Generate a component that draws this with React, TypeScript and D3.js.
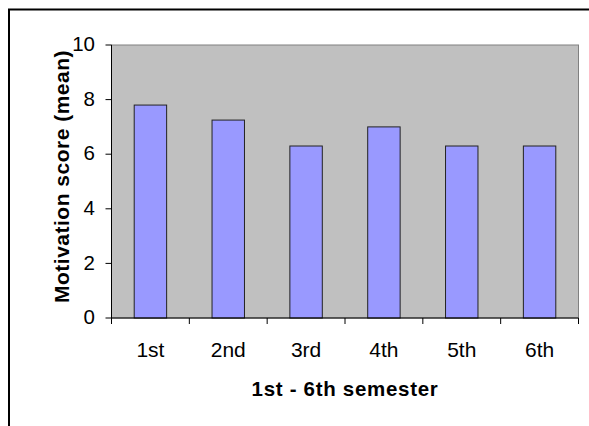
import React from "react";
import * as d3 from "d3";

const categories = ["1st", "2nd", "3rd", "4th", "5th", "6th"];
const meanScores = [7.8, 7.25, 6.3, 7.0, 6.3, 6.3];
const yTicks = [0, 2, 4, 6, 8, 10];
const xTitle = "1st - 6th semester";
const yTitle = "Motivation score (mean)";

const W = 589;
const H = 426;
const plot = { left: 111.5, right: 578.5, top: 45, bottom: 318 };
const font = "'Liberation Sans', Arial, Helvetica, sans-serif";

export default function App() {
  const y = d3.scaleLinear().domain([0, 10]).range([plot.bottom, plot.top]);
  // category slots (for tick marks) and bars with 140% gap width
  const slot = d3.scaleBand<string>().domain(categories).range([plot.left, plot.right]).padding(0);
  const gap = 1.4 / 2.4;
  const bar = d3
    .scaleBand<string>()
    .domain(categories)
    .range([plot.left, plot.right])
    .paddingInner(gap)
    .paddingOuter(gap / 2);

  const boundaries = categories.map((c) => slot(c) as number).concat([plot.right]);
  const midX = (plot.left + plot.right) / 2;
  const midY = (plot.top + plot.bottom) / 2;

  return (
    <svg
      width={W}
      height={H}
      style={{ position: "absolute", left: 0, top: 0, background: "#fff" }}
      fontFamily={font}
    >
      {/* chart frame */}
      <rect x={9} y={9.5} width={700} height={600} fill="none" stroke="#000" strokeWidth={2} />

      {/* plot area */}
      <rect
        x={plot.left}
        y={plot.top}
        width={plot.right - plot.left}
        height={plot.bottom - plot.top}
        fill="#C0C0C0"
        stroke="#808080"
        strokeWidth={1}
      />

      {/* bars */}
      {categories.map((c, i) => (
        <rect
          key={c}
          x={bar(c)}
          y={y(meanScores[i])}
          width={bar.bandwidth()}
          height={y(0) - y(meanScores[i])}
          fill="#9999FF"
          stroke="#222"
          strokeWidth={1}
        />
      ))}

      {/* y axis */}
      <line x1={plot.left} x2={plot.left} y1={plot.top} y2={plot.bottom} stroke="#000" />
      {yTicks.map((t) => (
        <g key={t}>
          <line x1={plot.left - 6} x2={plot.left} y1={y(t)} y2={y(t)} stroke="#000" />
          <text x={95} y={y(t)} dy="0.3em" textAnchor="end" fontSize={20.5} fill="#000">
            {t}
          </text>
        </g>
      ))}

      {/* x axis */}
      <line x1={plot.left} x2={plot.right} y1={plot.bottom} y2={plot.bottom} stroke="#000" />
      {boundaries.map((bx, i) => (
        <line key={i} x1={bx} x2={bx} y1={plot.bottom} y2={plot.bottom + 6} stroke="#000" />
      ))}
      {categories.map((c) => (
        <text
          key={c}
          x={(slot(c) as number) + slot.bandwidth() / 2}
          y={357}
          textAnchor="middle"
          fontSize={21}
          fill="#000"
        >
          {c}
        </text>
      ))}

      {/* axis titles */}
      <text x={midX} y={396} textAnchor="middle" fontSize={20.5} fontWeight="bold" letterSpacing={0.7} fill="#000">
        {xTitle}
      </text>
      <text
        transform={`translate(69, ${midY - 5}) rotate(-90)`}
        textAnchor="middle"
        fontSize={21}
        fontWeight="bold"
        letterSpacing={0.5}
        fill="#000"
      >
        {yTitle}
      </text>
    </svg>
  );
}
